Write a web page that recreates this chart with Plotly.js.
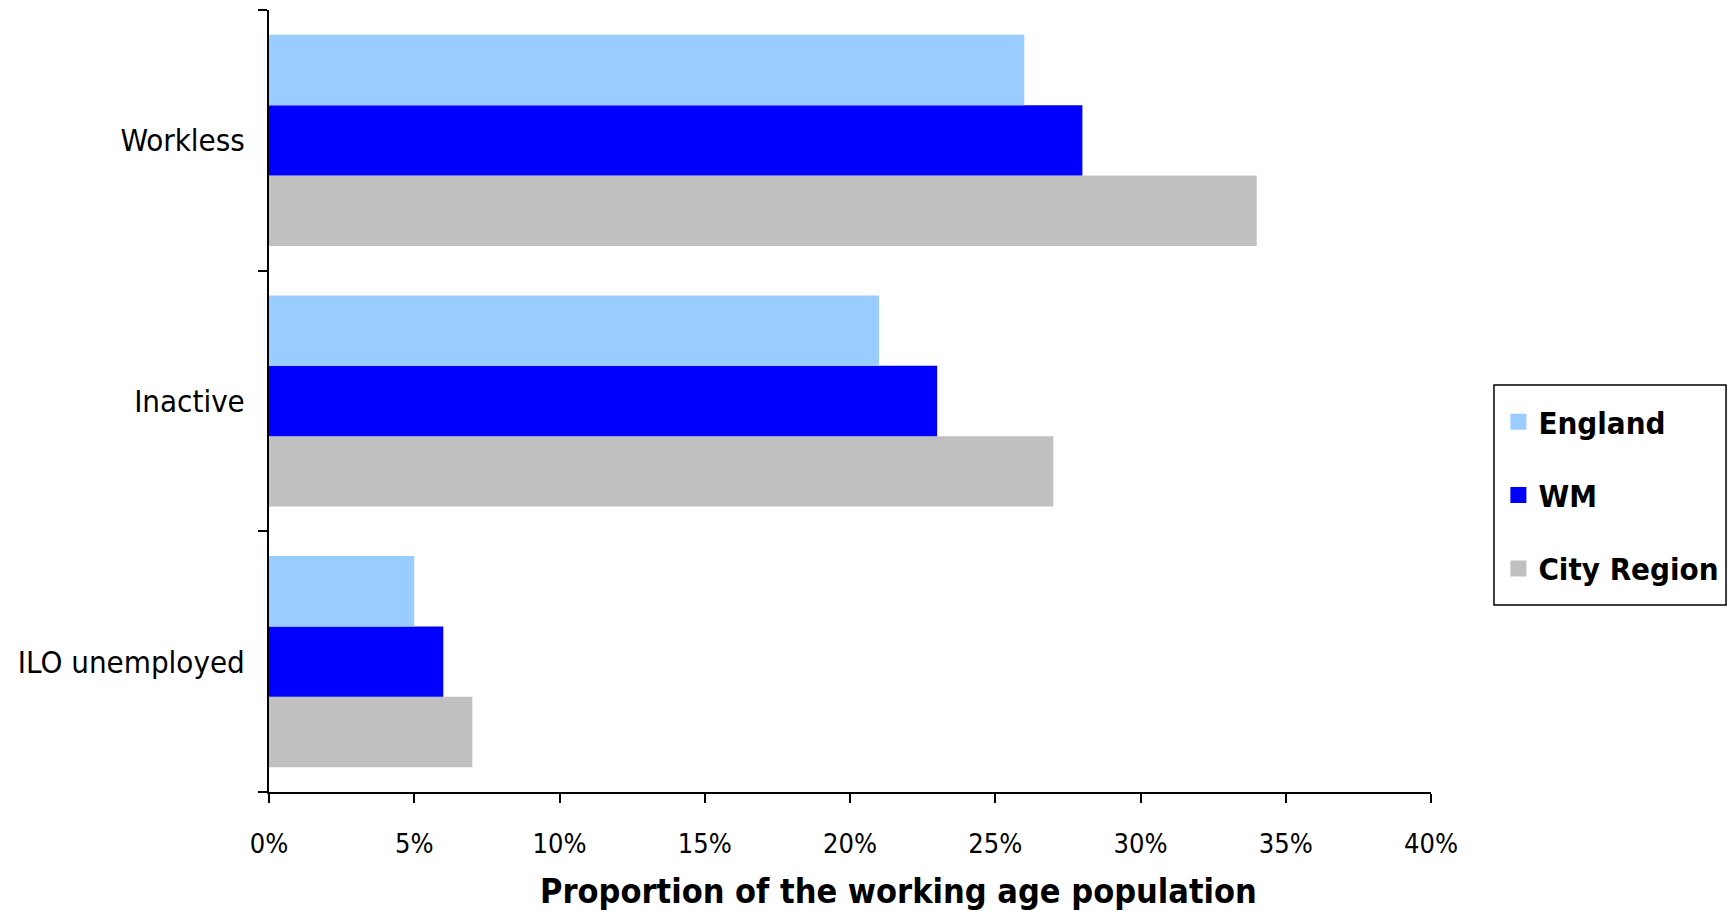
<!DOCTYPE html>
<html>
<head>
<meta charset="utf-8">
<script src="https://cdn.plot.ly/plotly-3.0.1.min.js"></script>
<style>html,body{margin:0;padding:0;background:#fff;}#chart{width:1735px;height:911px;}</style>
</head>
<body>
<div id="chart"></div>
<script>
const categories = ['Workless', 'Inactive', 'ILO unemployed'];
const seriesNames = ['England', 'WM', 'City Region'];
const england = [0.26, 0.21, 0.05];
const wm = [0.28, 0.23, 0.06];
const cityRegion = [0.34, 0.27, 0.07];
const tickValues = [0, 0.05, 0.10, 0.15, 0.20, 0.25, 0.30, 0.35, 0.40];
const tickLabels = ['0%', '5%', '10%', '15%', '20%', '25%', '30%', '35%', '40%'];
const xTitle = 'Proportion of the working age population';
const colors = ['#99CCFF', '#0000FF', '#C0C0C0'];
const values = [england, wm, cityRegion];

const FONT = '"DejaVu Sans Condensed", "DejaVu Sans", sans-serif';

// Plotly draws grouped horizontal bars bottom-up, so add traces in reverse
const traces = [];
for (let i = seriesNames.length - 1; i >= 0; i--) {
  traces.push({
    type: 'bar',
    orientation: 'h',
    name: seriesNames[i],
    y: categories,
    x: values[i],
    showlegend: false,
    marker: {color: colors[i], line: {width: 0}}
  });
}
// legend entries with larger square swatches
for (let i = 0; i < seriesNames.length; i++) {
  traces.push({
    type: 'scatter',
    mode: 'markers',
    name: seriesNames[i],
    x: [null],
    y: [null],
    legendgroup: 'g' + i,
    showlegend: true,
    marker: {symbol: 'square', size: 17, color: colors[i], line: {width: 0}}
  });
}

const layout = {
  width: 1735,
  height: 911,
  paper_bgcolor: '#ffffff',
  plot_bgcolor: '#ffffff',
  margin: {l: 269, r: 304, t: 10, b: 119},
  barmode: 'group',
  bargap: 0.19,
  bargroupgap: 0,
  font: {family: FONT, color: '#000000', size: 28},
  showlegend: true,
  legend: {
    x: 1.058, xanchor: 'left',
    y: 0.5075, yanchor: 'top',
    traceorder: 'grouped',
    tracegroupgap: 30,
    itemwidth: 30,
    borderwidth: 0,
    bgcolor: 'rgba(0,0,0,0)',
    font: {family: FONT, size: 31, color: '#000000', weight: 'bold'}
  },
  shapes: [{
    type: 'rect', xref: 'paper', yref: 'paper',
    x0: 1.0542, x1: 1.2539, y0: 0.2391, y1: 0.5205,
    line: {color: '#000000', width: 1.5},
    fillcolor: 'rgba(0,0,0,0)',
    layer: 'below'
  }],
  annotations: [{
    text: xTitle,
    xref: 'paper', yref: 'paper',
    x: 0.5417, y: -0.1266,
    xanchor: 'center', yanchor: 'middle',
    showarrow: false,
    font: {family: FONT, size: 34, color: '#000000', weight: 'bold'}
  }],
  xaxis: {
    range: [0, 0.40],
    tickvals: tickValues,
    ticktext: tickLabels,
    showgrid: false,
    zeroline: false,
    showline: true,
    linecolor: '#000000',
    linewidth: 2,
    ticks: 'outside',
    ticklen: 9,
    tickwidth: 2,
    tickcolor: '#000000',
    tickfont: {family: FONT, size: 27, color: '#000000'},
    ticklabelstandoff: 18,
    fixedrange: true
  },
  yaxis: {
    type: 'category',
    categoryorder: 'array',
    categoryarray: categories.slice().reverse(),
    showgrid: false,
    zeroline: false,
    showline: true,
    linecolor: '#000000',
    linewidth: 2,
    ticks: 'outside',
    tickson: 'boundaries',
    ticklen: 9,
    tickwidth: 2,
    tickcolor: '#000000',
    tickfont: {family: FONT, size: 31, color: '#000000'},
    ticklabelstandoff: 16,
    fixedrange: true
  }
};

Plotly.newPlot('chart', traces, layout, {displayModeBar: false, staticPlot: true});
</script>
</body>
</html>
